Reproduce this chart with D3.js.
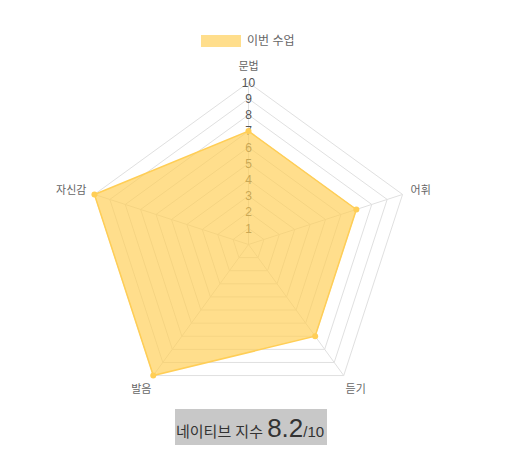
<!DOCTYPE html>
<html>
<head>
<meta charset="utf-8">
<script src="https://cdn.jsdelivr.net/npm/d3@7"></script>
<style>
  body { margin: 0; background: #fff; }
  #chart text { font-family: Arial, "Liberation Sans", "Noto Sans CJK KR", sans-serif; }
</style>
</head>
<body>
<div id="chart"></div>
<script>
const categories = ["문법", "어휘", "듣기", "발음", "자신감"];
const values = [7, 7, 7, 10, 10];
const seriesName = "이번 수업";
const ticks = [1, 2, 3, 4, 5, 6, 7, 8, 9, 10];
const scoreLabel = "네이티브 지수";
const score = "8.2";
const scoreMax = "/10";

const width = 527, height = 459;
const cx = 248.5, cy = 244.5, radius = 162;
const fill = "rgba(255, 206, 86, 0.68)";
const stroke = "rgb(255, 206, 86)";

const svg = d3.select("#chart").append("svg")
  .attr("width", width)
  .attr("height", height);

const r = d3.scaleLinear().domain([0, 10]).range([0, radius]);
const angle = d3.scaleLinear().domain([0, categories.length]).range([0, 2 * Math.PI]);

function pt(i, v) {
  const a = angle(i) - Math.PI / 2;
  return [cx + r(v) * Math.cos(a), cy + r(v) * Math.sin(a)];
}

// grid rings
const g = svg.append("g");
g.selectAll("polygon.ring")
  .data(ticks)
  .join("polygon")
  .attr("class", "ring")
  .attr("points", t => categories.map((c, i) => pt(i, t).join(",")).join(" "))
  .attr("fill", "none")
  .attr("stroke", "#e0e0e0")
  .attr("stroke-width", 1);

// angle lines
g.selectAll("line.spoke")
  .data(categories)
  .join("line")
  .attr("class", "spoke")
  .attr("x1", cx).attr("y1", cy)
  .attr("x2", (d, i) => pt(i, 10)[0])
  .attr("y2", (d, i) => pt(i, 10)[1])
  .attr("stroke", "#e0e0e0");

// tick labels (under the fill, like the original)
g.selectAll("text.tick")
  .data(ticks)
  .join("text")
  .attr("class", "tick")
  .attr("x", cx)
  .attr("y", t => cy - r(t))
  .attr("dy", "0.35em")
  .attr("text-anchor", "middle")
  .attr("font-size", 12)
  .attr("fill", "#555")
  .text(d => d);

// data polygon
svg.append("polygon")
  .attr("points", values.map((v, i) => pt(i, v).join(",")).join(" "))
  .attr("fill", fill)
  .attr("stroke", stroke)
  .attr("stroke-width", 1.5);

svg.selectAll("circle.pt")
  .data(values)
  .join("circle")
  .attr("class", "pt")
  .attr("cx", (v, i) => pt(i, v)[0])
  .attr("cy", (v, i) => pt(i, v)[1])
  .attr("r", 3)
  .attr("fill", stroke);

// point labels
const labelPos = [
  { dx: 0, dy: -16, anchor: "middle" },
  { dx: 8, dy: -4, anchor: "start" },
  { dx: 12, dy: 14, anchor: "middle" },
  { dx: -12, dy: 14, anchor: "middle" },
  { dx: -8, dy: -4, anchor: "end" }
];
svg.selectAll("text.cat")
  .data(categories)
  .join("text")
  .attr("class", "cat")
  .attr("x", (d, i) => pt(i, 10)[0] + labelPos[i].dx)
  .attr("y", (d, i) => pt(i, 10)[1] + labelPos[i].dy)
  .attr("dy", "0.35em")
  .attr("text-anchor", (d, i) => labelPos[i].anchor)
  .attr("font-size", 11)
  .attr("fill", "#666")
  .text(d => d);

// legend
svg.append("rect")
  .attr("x", 201).attr("y", 35)
  .attr("width", 40).attr("height", 12)
  .attr("fill", fill);
svg.append("text")
  .attr("x", 247).attr("y", 41)
  .attr("dy", "0.35em")
  .attr("font-size", 12)
  .attr("fill", "#666")
  .text(seriesName);

// score box
svg.append("rect")
  .attr("x", 175).attr("y", 409)
  .attr("width", 152).attr("height", 36)
  .attr("fill", "#c8c8c8");
const st = svg.append("text")
  .attr("x", 176).attr("y", 437)
  .attr("fill", "#333");
st.append("tspan").attr("font-size", 15).text(scoreLabel + " ");
st.append("tspan").attr("font-size", 26).text(score);
st.append("tspan").attr("font-size", 15).text(scoreMax);
</script>
</body>
</html>
